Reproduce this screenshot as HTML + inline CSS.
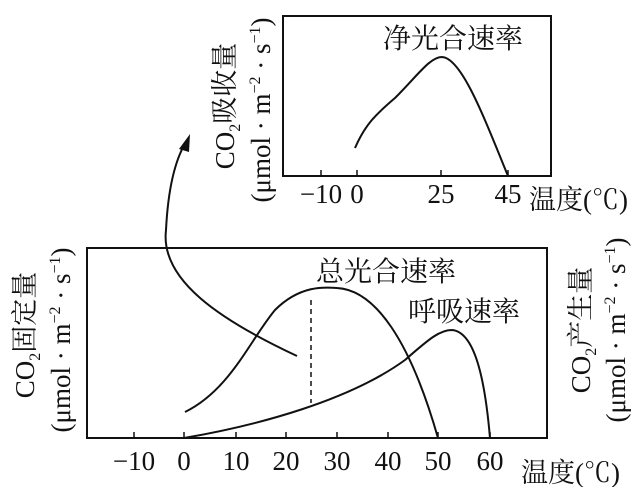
<!DOCTYPE html><html><head><style>body{margin:0;background:#fff}svg{display:block}text{font-family:"Liberation Serif","Noto Serif CJK SC",serif;fill:#111}</style></head><body>
<svg width="642" height="487" viewBox="0 0 642 487" stroke="#111" fill="none" stroke-width="2">
<rect x="283" y="16" width="268" height="160"/>
<rect x="87" y="248" width="460" height="190"/>
<g stroke-width="1.5">
<line x1="321" y1="176" x2="321" y2="170"/><line x1="357" y1="176" x2="357" y2="170"/><line x1="441" y1="176" x2="441" y2="170"/><line x1="508" y1="176" x2="508" y2="170"/>
<line x1="134" y1="438" x2="134" y2="432"/><line x1="184" y1="438" x2="184" y2="432"/><line x1="236" y1="438" x2="236" y2="432"/><line x1="286" y1="438" x2="286" y2="432"/><line x1="337" y1="438" x2="337" y2="432"/><line x1="388" y1="438" x2="388" y2="432"/><line x1="438" y1="438" x2="438" y2="432"/><line x1="490" y1="438" x2="490" y2="432"/>
</g>
<path d="M355,148 C365,125 375,115 395,98 C418,75 430,57 442,57 C462,58 485,120 508,176"/>
<path d="M185,412 C230,390 250,340 275,310 C300,285 325,287 337,288 C375,290 410,340 438,438"/>
<path d="M184,438 C260,425 350,400 405,360 C430,338 440,330 452,330 C475,332 485,380 490,438"/>
<line x1="311" y1="300" x2="311" y2="403" stroke-dasharray="5,4" stroke-width="1.5"/>
<path d="M297,356 C220,320 160,280 166,230 C168,190 175,160 186,142"/>
<polygon points="190,134 179,149 189,152" fill="#111" stroke="none"/>
<g stroke="none" font-size="28">
<text x="383" y="48">净光合速率</text>
<text x="316" y="281">总光合速率</text>
<text x="408" y="321">呼吸速率</text>
<text x="529" y="209" font-size="27">温度(℃)</text>
<text x="521" y="482" font-size="27">温度(℃)</text>
<g text-anchor="middle" font-size="27"><text x="321" y="203">−10</text><text x="357" y="203">0</text><text x="441" y="203">25</text><text x="508" y="203">45</text>
<text x="134" y="470">−10</text><text x="184" y="470">0</text><text x="236" y="470">10</text><text x="286" y="470">20</text><text x="337" y="470">30</text><text x="388" y="470">40</text><text x="438" y="470">50</text><text x="490" y="470">60</text></g>
<g text-anchor="middle" font-size="27">
<text transform="translate(234,106) rotate(-90)">CO<tspan font-size="16" dy="6">2</tspan><tspan dy="-6">吸收量</tspan></text>
<text transform="translate(270,110) rotate(-90)">(μmol · m<tspan font-size="16" dy="-10">−2</tspan><tspan dy="10"> · s</tspan><tspan font-size="16" dy="-10">−1</tspan><tspan dy="10">)</tspan></text>
<text transform="translate(34,335) rotate(-90)">CO<tspan font-size="16" dy="6">2</tspan><tspan dy="-6">固定量</tspan></text>
<text transform="translate(70,340) rotate(-90)">(μmol · m<tspan font-size="16" dy="-10">−2</tspan><tspan dy="10"> · s</tspan><tspan font-size="16" dy="-10">−1</tspan><tspan dy="10">)</tspan></text>
<text transform="translate(590,330) rotate(-90)">CO<tspan font-size="16" dy="6">2</tspan><tspan dy="-6">产生量</tspan></text>
<text transform="translate(625,330) rotate(-90)">(μmol · m<tspan font-size="16" dy="-10">−2</tspan><tspan dy="10"> · s</tspan><tspan font-size="16" dy="-10">−1</tspan><tspan dy="10">)</tspan></text>
</g></g>
</svg></body></html>
